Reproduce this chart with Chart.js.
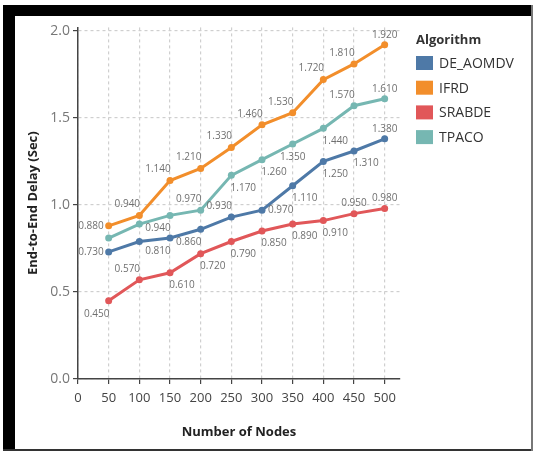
<!DOCTYPE html>
<html>
<head>
<meta charset="utf-8">
<script src="https://cdn.jsdelivr.net/npm/chart.js@4/dist/chart.umd.min.js"></script>
<style>
  html, body { margin: 0; padding: 0; background: #fff; }
  body { width: 533px; height: 451px; position: relative; overflow: hidden; }
  .band { position: absolute; background: #000; }
  #wrap { position: absolute; left: 15px; top: 16px; width: 516px; height: 433px; }
</style>
</head>
<body>
<div class="band" style="left:3px;top:5px;width:12px;height:446px;"></div>
<div class="band" style="left:3px;top:5px;width:530px;height:11px;"></div>
<div class="band" style="left:3px;top:449px;width:530px;height:2px;background:#333;"></div>
<div class="band" style="left:531px;top:5px;width:2px;height:446px;background:#777;"></div>
<div id="wrap"><canvas id="delayChart"></canvas></div>
<script>
// x values (Number of Nodes)
const nodes = [50, 100, 150, 200, 250, 300, 350, 400, 450, 500];

// End-to-end delay (sec) per algorithm
const deAomdv = [0.73, 0.79, 0.81, 0.86, 0.93, 0.97, 1.11, 1.25, 1.31, 1.38];
const ifrd    = [0.88, 0.94, 1.14, 1.21, 1.33, 1.46, 1.53, 1.72, 1.81, 1.92];
const srabde  = [0.45, 0.57, 0.61, 0.72, 0.79, 0.85, 0.89, 0.91, 0.95, 0.98];
const tpaco   = [0.81, 0.89, 0.94, 0.97, 1.17, 1.26, 1.35, 1.44, 1.57, 1.61];

const xTicks = [0, 50, 100, 150, 200, 250, 300, 350, 400, 450, 500];
const yTicks = [0, 0.5, 1.0, 1.5, 2.0];

// where the value label sits next to each point ('' = hidden)
const deLabelPos    = ["l", "", "bl", "bl", "tl", "r", "br", "br", "br", "t"];
const ifrdLabelPos  = ["l", "tl", "tl", "tl", "tl", "tl", "tl", "tl", "tl", "t"];
const srabdeLabelPos = ["bl", "tl", "br", "br", "br", "br", "br", "br", "t", "t"];
const tpacoLabelPos = ["", "", "bl", "tl", "br", "br", "b", "br", "tl", "t"];

function toPoints(values) {
    return nodes.map((n, i) => ({ x: n, y: values[i] }));
}

function series(label, values, color, labelPos) {
    return {
        label: label,
        data: toPoints(values),
        borderColor: color,
        backgroundColor: color,
        borderWidth: 3,
        pointRadius: 3.5,
        pointBorderWidth: 0,
        pointHoverRadius: 3.5,
        tension: 0,
        labelPos: labelPos
    };
}

const valueLabels = {
    id: "valueLabels",
    afterDatasetsDraw(chart) {
        const c = chart.ctx;
        c.save();
        c.font = "10px 'Open Sans'";
        c.fillStyle = "#707070";
        c.textBaseline = "middle";
        chart.data.datasets.forEach((ds, di) => {
            const meta = chart.getDatasetMeta(di);
            meta.data.forEach((pt, i) => {
                const pos = ds.labelPos[i];
                if (!pos) return;
                const txt = ds.data[i].y.toFixed(3);
                let x = pt.x, y = pt.y;
                c.textAlign = "center";
                if (pos === "tl") { x -= 12; y -= 11; }
                else if (pos === "bl") { x -= 12; y += 13; }
                else if (pos === "br") { x += 12; y += 12.5; }
                else if (pos === "t") { y -= 10; }
                else if (pos === "b") { y += 13; }
                else if (pos === "l") { x -= 5; c.textAlign = "right"; }
                else if (pos === "r") { x += 6; c.textAlign = "left"; }
                c.fillText(txt, x, y);
            });
        });
        c.restore();
    }
};

const sideLegend = {
    id: "sideLegend",
    afterDraw(chart) {
        const c = chart.ctx;
        const left = chart.chartArea.right + 16;
        c.save();
        c.textBaseline = "middle";
        c.textAlign = "left";
        c.fillStyle = "#333";
        c.font = "bold 13px 'Open Sans'";
        c.fillText("Algorithm", left, 24);
        c.font = "14px 'Open Sans'";
        chart.data.datasets.forEach((ds, i) => {
            const cy = 47 + i * 24.7;
            c.fillStyle = ds.borderColor;
            c.fillRect(left, cy - 7, 17, 14);
            c.fillStyle = "#333";
            c.fillText(ds.label, left + 23, cy + 1);
        });
        c.restore();
    }
};

new Chart(document.getElementById("delayChart"), {
    type: "line",
    data: {
        datasets: [
            series("DE_AOMDV", deAomdv, "#4e79a7", deLabelPos),
            series("IFRD", ifrd, "#f28e2b", ifrdLabelPos),
            series("SRABDE", srabde, "#e15759", srabdeLabelPos),
            series("TPACO", tpaco, "#76b7b2", tpacoLabelPos)
        ]
    },
    options: {
        responsive: true,
        maintainAspectRatio: false,
        animation: false,
        layout: { padding: { top: 9, right: 131, left: 0, bottom: 0 } },
        plugins: {
            legend: { display: false },
            tooltip: { enabled: false }
        },
        scales: {
            x: {
                type: "linear",
                min: 0,
                max: 525,
                afterBuildTicks: (s) => { s.ticks = xTicks.map(v => ({ value: v })); },
                afterFit: (s) => { s.height = 70; },
                ticks: {
                    color: "#444",
                    padding: 6,
                    font: { family: "'Open Sans'", size: 13 },
                    callback: (v) => v
                },
                grid: {
                    color: "#cfcfcf",
                    lineWidth: 1.2,
                    tickColor: "#444",
                    tickLength: 5
                },
                border: { color: "#444", width: 1.5, dash: [3, 3] },
                title: {
                    display: true,
                    text: "Number of Nodes",
                    color: "#222",
                    font: { family: "'Open Sans'", size: 13, weight: "bold" },
                    padding: { top: 0, bottom: 9 }
                }
            },
            y: {
                min: 0,
                max: 2.02,
                afterBuildTicks: (s) => { s.ticks = yTicks.map(v => ({ value: v })); },
                afterFit: (s) => { s.width = 63; },
                ticks: {
                    color: "#777",
                    padding: 3,
                    font: { family: "'Open Sans'", size: 14 },
                    callback: (v) => v.toFixed(1)
                },
                grid: {
                    color: "#cfcfcf",
                    lineWidth: 1.2,
                    tickColor: "#444",
                    tickLength: 5
                },
                border: { color: "#444", width: 1.5, dash: [3, 3] },
                title: {
                    display: true,
                    text: "End-to-End Delay (Sec)",
                    color: "#222",
                    font: { family: "'Open Sans'", size: 13, weight: "bold" },
                    padding: { top: 10, bottom: 0 }
                }
            }
        }
    },
    plugins: [valueLabels, sideLegend]
});
</script>
</body>
</html>
